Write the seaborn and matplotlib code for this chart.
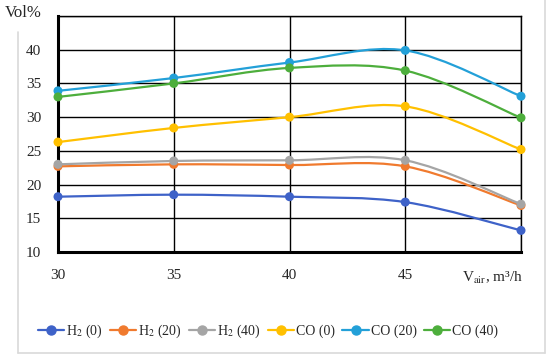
import numpy as np
import pandas as pd
import matplotlib
matplotlib.use("Agg")
import matplotlib.pyplot as plt
from matplotlib.path import Path
from matplotlib.patches import PathPatch
from matplotlib.lines import Line2D
import seaborn as sns

v_air = [30, 35, 40, 45, 50]
h2_0 = [18.2, 18.5, 18.2, 17.4, 13.2]
h2_20 = [22.7, 23.0, 22.9, 22.7, 16.9]
h2_40 = [23.0, 23.5, 23.6, 23.6, 17.1]
co_0 = [26.3, 28.4, 30.0, 31.6, 25.2]
co_20 = [33.9, 35.8, 38.1, 39.9, 33.1]
co_40 = [33.0, 35.0, 37.3, 36.9, 29.9]

labels = [r"H$_2$ (0)", r"H$_2$ (20)", r"H$_2$ (40)", "CO (0)", "CO (20)", "CO (40)"]
colors = ["#3E62C8", "#F07A2E", "#A5A5A5", "#FFC000", "#23A0D8", "#4DAE3C"]
series = [h2_0, h2_20, h2_40, co_0, co_20, co_40]


def smooth_path(x, y):
    # Excel-style smoothed line: cubic bezier through the points
    pts = np.column_stack([x, y]).astype(float)
    n = len(pts)
    verts = [pts[0]]
    codes = [Path.MOVETO]
    for i in range(n - 1):
        p0 = pts[max(i - 1, 0)]
        p1 = pts[i]
        p2 = pts[i + 1]
        p3 = pts[min(i + 2, n - 1)]
        c1 = p1 + (p2 - p0) / 6
        c2 = p2 - (p3 - p1) / 6
        verts += [c1, c2, p2]
        codes += [Path.CURVE4] * 3
    return Path(verts, codes)


def main():
    sns.set_style("white")
    plt.rcParams["font.family"] = ["Liberation Serif", "DejaVu Serif"]
    plt.rcParams["mathtext.fontset"] = "stix"

    rows = []
    for lab, vals in zip(labels, series):
        for xv, yv in zip(v_air, vals):
            rows.append({"V": xv, "Vol": yv, "series": lab})
    df = pd.DataFrame(rows)

    fig = plt.figure(figsize=(5.5, 3.6), dpi=100)
    ax = fig.add_axes([58 / 550, 108 / 360, 463 / 550, 236 / 360])

    for lab, vals, col in zip(labels, series, colors):
        ax.add_patch(PathPatch(smooth_path(v_air, vals), facecolor="none",
                               edgecolor=col, lw=1.6, zorder=3, clip_on=False))
    sns.scatterplot(data=df, x="V", y="Vol", hue="series", palette=colors,
                    hue_order=labels, s=42, edgecolor="none", ax=ax,
                    legend=False, zorder=6, clip_on=False)

    ax.set_xlim(30, 50)
    ax.set_ylim(10, 45)
    ax.set_xticks([30, 35, 40, 45, 50])
    ax.set_xticklabels(["30", "35", "40", "45", ""])
    ax.set_yticks([10, 15, 20, 25, 30, 35, 40, 45])
    ax.set_yticklabels(["10", "15", "20", "25", "30", "35", "40", ""])
    ax.grid(True, color="black", lw=1.0)
    ax.set_axisbelow(True)
    ax.tick_params(length=0, labelsize=11, pad=12)
    ax.set_xlabel("")
    ax.set_ylabel("")
    for side in ["top", "right"]:
        ax.spines[side].set_color("black")
        ax.spines[side].set_linewidth(1.0)
    for side in ["left", "bottom"]:
        ax.spines[side].set_color("black")
        ax.spines[side].set_linewidth(2.2)
        ax.spines[side].set_zorder(5)

    ax.text(50.1, 7.4, r"V$_{\mathrm{air}}$, m³/h", ha="right", va="top",
            fontsize=11)
    fig.text(5 / 550, 1 - 13 / 360, "Vol%", fontsize=12, va="center", ha="left")

    handles = [Line2D([], [], color=c, lw=1.6, marker="o", markersize=6.5)
               for c in colors]
    fig.legend(handles, labels, loc="center", bbox_to_anchor=(268 / 550, 1 - 331 / 360),
               ncol=6, frameon=False, fontsize=10, handlelength=1.9,
               handletextpad=0.15, columnspacing=0.5)

    # light chart frame
    gray = "#D9D9D9"
    fig.add_artist(Line2D([18 / 550, 18 / 550], [1 - 353 / 360, 1 - 32 / 360],
                          color=gray, lw=1.2, transform=fig.transFigure))
    fig.add_artist(Line2D([545 / 550, 545 / 550], [1 - 353 / 360, 1.0],
                          color=gray, lw=1.2, transform=fig.transFigure))
    fig.add_artist(Line2D([18 / 550, 545 / 550], [1 - 353 / 360, 1 - 353 / 360],
                          color=gray, lw=1.2, transform=fig.transFigure))

    fig.savefig("out.png", dpi=100)


if __name__ == "__main__":
    main()
